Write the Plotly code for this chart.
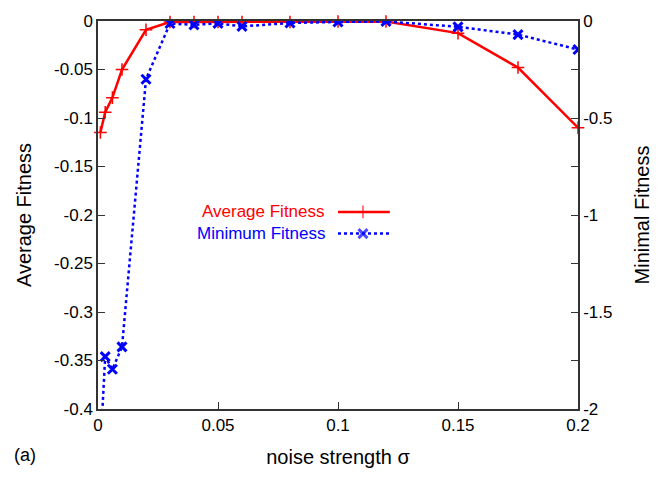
import plotly.graph_objects as go

sigma = [0.001, 0.003, 0.006, 0.01, 0.02, 0.03, 0.04, 0.05, 0.06, 0.08, 0.1, 0.12, 0.15, 0.175, 0.2]
avg_fitness = [-0.115, -0.094, -0.079, -0.05, -0.009, -0.001, -0.001, -0.001, -0.001, -0.001, -0.0005, -0.0005, -0.0125, -0.048, -0.11]
min_fitness = [-2.2, -1.73, -1.795, -1.68, -0.30, -0.013, -0.02, -0.012, -0.028, -0.01, -0.005, -0.002, -0.03, -0.07, -0.147]

x_ticks = [0, 0.05, 0.1, 0.15, 0.2]
x_ticklabels = ["0", "0.05", "0.1", "0.15", "0.2"]
y_ticks = [0, -0.05, -0.1, -0.15, -0.2, -0.25, -0.3, -0.35, -0.4]
y_ticklabels = ["0", "-0.05", "-0.1", "-0.15", "-0.2", "-0.25", "-0.3", "-0.35", "-0.4"]
y2_ticks = [0, -0.25, -0.5, -0.75, -1, -1.25, -1.5, -1.75, -2]
y2_ticklabels = ["0", "", "-0.5", "", "-1", "", "-1.5", "", "-2"]

RED = "#ff0000"
BLUE = "#0000ff"
FONT = "Liberation Sans, Arial, sans-serif"
AX = "#333333"

fig = go.Figure()
fig.add_trace(go.Scatter(
    x=sigma, y=min_fitness, yaxis="y2", mode="lines+markers",
    line=dict(color=BLUE, width=2.5, dash="dot"),
    marker=dict(symbol="x-thin", size=9, line=dict(color=BLUE, width=3), color=BLUE),
    cliponaxis=True, showlegend=False,
))
fig.add_trace(go.Scatter(
    x=sigma, y=avg_fitness, mode="lines+markers",
    line=dict(color=RED, width=2.5),
    marker=dict(symbol="cross-thin", size=9, line=dict(color=RED, width=1.5), color=RED),
    cliponaxis=False, showlegend=False,
))

# custom legend (text left, sample right) on hidden overlay axes
leg = [("Average Fitness", RED, "solid", "cross-thin", 0.508, 1.5),
       ("Minimum Fitness", BLUE, "dot", "x-thin", 0.452, 3)]
for name, col, dash, sym, yy, mw in leg:
    fig.add_trace(go.Scatter(
        x=[0.5, 0.552, 0.608], y=[yy, yy, yy], xaxis="x3", yaxis="y3",
        mode="lines+markers", line=dict(color=col, width=2.5, dash=dash),
        marker=dict(symbol=sym, size=[0, 9, 0], line=dict(color=col, width=mw), color=col),
        showlegend=False, hoverinfo="skip", cliponaxis=False,
    ))
    fig.add_annotation(x=0.476, y=yy, xref="x3", yref="y3", text=name, showarrow=False,
                       xanchor="right", yanchor="middle", borderpad=0,
                       font=dict(color=col, size=17, family=FONT))

fig.add_annotation(x=-0.152, y=-0.118, xref="paper", yref="paper", text="(a)", showarrow=False,
                   xanchor="center", yanchor="middle", font=dict(size=18, family=FONT, color="black"))

fig.update_layout(
    width=667, height=477,
    margin=dict(l=98, r=89, t=15, b=62),
    paper_bgcolor="white", plot_bgcolor="white",
    font=dict(family=FONT, size=17, color="black"),
    xaxis=dict(range=[0, 0.2], tickvals=x_ticks, ticktext=x_ticklabels, ticks="inside", ticklen=7,
               tickcolor=AX, showline=True, linecolor=AX, linewidth=1.5, mirror=True, showgrid=False,
               zeroline=False, title=dict(text="noise strength σ", standoff=16)),
    yaxis=dict(range=[-0.4, 0], tickvals=y_ticks, ticktext=y_ticklabels, ticks="inside", ticklen=7,
               tickcolor=AX, showline=True, linecolor=AX, linewidth=1.5, showgrid=False, zeroline=False,
               title=dict(text="Average Fitness", standoff=17)),
    yaxis2=dict(range=[-2, 0], overlaying="y", side="right", tickvals=y2_ticks, ticktext=y2_ticklabels,
                ticks="inside", ticklen=7, tickcolor=AX, showline=True, linecolor=AX, linewidth=1.5,
                showgrid=False, zeroline=False, title=dict(text="Minimal Fitness", standoff=24)),
    xaxis3=dict(overlaying="x", range=[0, 1], visible=False),
    yaxis3=dict(overlaying="y", range=[0, 1], visible=False),
)

fig.write_html("out.html")
